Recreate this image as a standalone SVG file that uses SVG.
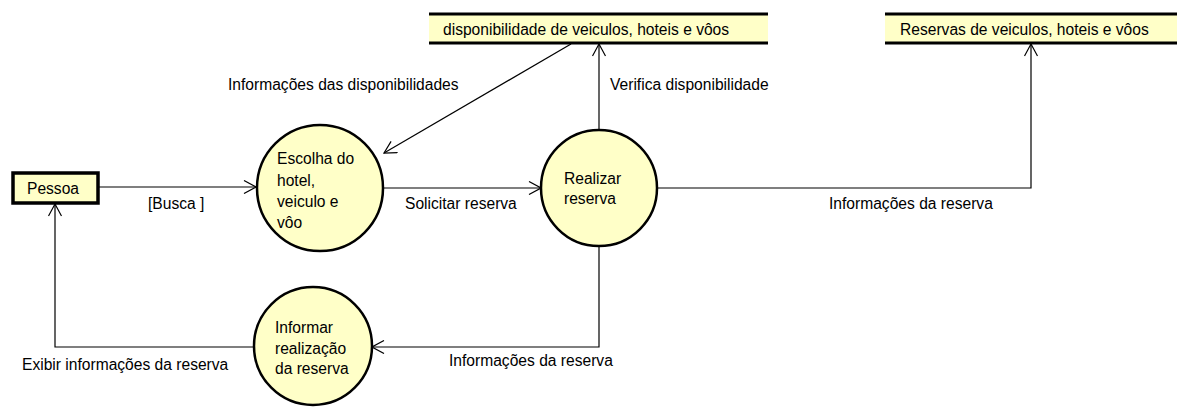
<svg xmlns="http://www.w3.org/2000/svg" width="1189" height="418" viewBox="0 0 1189 418">
<style>
text{font-family:"Liberation Sans",Arial,sans-serif;font-size:15.6px;fill:#000}
.proc{fill:#ffffc8;stroke:#000;stroke-width:2.5}
.ent{fill:#ffffc8;stroke:#000;stroke-width:3.5}
.store{fill:#ffffc8}
.sline{stroke:#000;stroke-width:3}
.conn{fill:none;stroke:#000;stroke-width:1.2}
</style>
<defs>
<marker id="arr" viewBox="0 0 14 14" refX="13" refY="7" markerWidth="14" markerHeight="14" markerUnits="userSpaceOnUse" orient="auto">
<path d="M1,0.5 L13,7 L1,13.5" fill="none" stroke="#000" stroke-width="1.2"/>
</marker>
</defs>
<rect width="1189" height="418" fill="#fff"/>
<g id="pessoa">
<rect class="ent" x="13" y="173" width="85" height="30"/>
<text x="27" y="194">Pessoa</text>
</g>
<g id="escolha">
<circle class="proc" cx="320" cy="188" r="63"/>
<text x="277" y="164">Escolha do</text>
<text x="277" y="186">hotel,</text>
<text x="277" y="207">veiculo e</text>
<text x="277" y="228">vôo</text>
</g>
<g id="realizar">
<circle class="proc" cx="599" cy="188" r="58"/>
<text x="564" y="184">Realizar</text>
<text x="564" y="204">reserva</text>
</g>
<g id="informar">
<circle class="proc" cx="313" cy="346" r="59"/>
<text x="275" y="333">Informar</text>
<text x="275" y="354">realização</text>
<text x="275" y="374">da reserva</text>
</g>
<g id="store-disp">
<rect class="store" x="429" y="14" width="339" height="29"/>
<line class="sline" x1="429" y1="14" x2="768" y2="14"/>
<line class="sline" x1="429" y1="43" x2="768" y2="43"/>
<text x="443" y="35">disponibilidade de veiculos, hoteis e vôos</text>
</g>
<g id="store-res">
<rect class="store" x="885" y="14" width="292" height="29"/>
<line class="sline" x1="885" y1="14" x2="1177" y2="14"/>
<line class="sline" x1="885" y1="43" x2="1177" y2="43"/>
<text x="900" y="35">Reservas de veiculos, hoteis e vôos</text>
</g>
<g id="connectors">
<path class="conn" d="M98,187 L256,187" marker-end="url(#arr)"/>
<text x="148" y="209">[Busca ]</text>
<path class="conn" d="M383,188 L541,188" marker-end="url(#arr)"/>
<text x="405" y="209">Solicitar reserva</text>
<path class="conn" d="M599,130 L599,44" marker-end="url(#arr)"/>
<text x="610" y="90">Verifica disponibilidade</text>
<path class="conn" d="M571,44 L384,153" marker-end="url(#arr)"/>
<text x="228" y="90">Informações das disponibilidades</text>
<path class="conn" d="M657,188 L1031,188 L1031,44" marker-end="url(#arr)"/>
<text x="829" y="209">Informações da reserva</text>
<path class="conn" d="M599,246 L599,347 L372,347" marker-end="url(#arr)"/>
<text x="449" y="366">Informações da reserva</text>
<path class="conn" d="M254,347 L55,347 L55,204" marker-end="url(#arr)"/>
<text x="22" y="370">Exibir informações da reserva</text>
</g>
</svg>
